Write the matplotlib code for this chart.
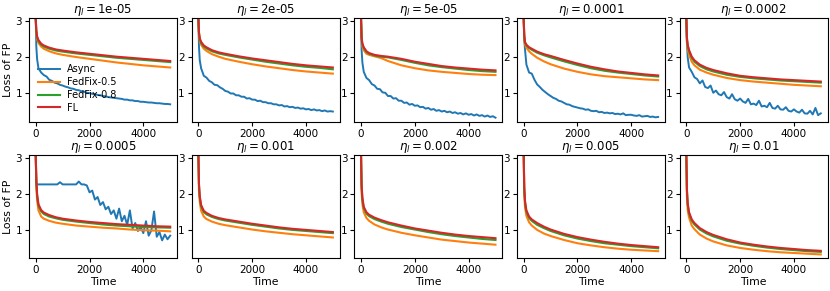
import matplotlib
matplotlib.use("Agg")
import matplotlib.pyplot as plt

lrs = ["1e-05", "2e-05", "5e-05", "0.0001", "0.0002",
       "0.0005", "0.001", "0.002", "0.005", "0.01"]
series_names = ["Async", "FedFix-0.5", "FedFix-0.8", "FL"]

t_smooth = [0, 20, 50, 100, 200, 300, 500, 750, 1000, 1500, 2000, 2500, 3000, 3500, 4000, 4500, 5000]
t_async = [0, 20, 50] + list(range(100, 5001, 100))

fl = [
    [3.05, 2.75, 2.58, 2.48, 2.38, 2.33, 2.27, 2.22, 2.19, 2.14, 2.10, 2.06, 2.02, 1.99, 1.96, 1.93, 1.90],
    [3.05, 2.70, 2.53, 2.43, 2.33, 2.28, 2.20, 2.14, 2.10, 2.03, 1.97, 1.92, 1.87, 1.82, 1.78, 1.75, 1.72],
    [3.05, 2.55, 2.38, 2.28, 2.17, 2.12, 2.07, 2.04, 2.02, 1.96, 1.88, 1.82, 1.76, 1.72, 1.69, 1.66, 1.64],
    [3.05, 2.60, 2.42, 2.35, 2.28, 2.24, 2.16, 2.09, 2.04, 1.93, 1.83, 1.74, 1.67, 1.61, 1.57, 1.53, 1.50],
    [3.05, 2.55, 2.35, 2.20, 2.02, 1.92, 1.80, 1.71, 1.65, 1.56, 1.49, 1.45, 1.42, 1.39, 1.37, 1.35, 1.33],
    [3.05, 2.40, 2.00, 1.72, 1.56, 1.49, 1.42, 1.36, 1.32, 1.27, 1.23, 1.20, 1.17, 1.15, 1.13, 1.11, 1.10],
    [3.05, 2.30, 1.95, 1.70, 1.54, 1.48, 1.40, 1.34, 1.30, 1.24, 1.18, 1.13, 1.08, 1.04, 1.01, 0.98, 0.95],
    [3.05, 2.25, 1.90, 1.65, 1.50, 1.43, 1.35, 1.28, 1.22, 1.13, 1.05, 0.99, 0.93, 0.88, 0.84, 0.81, 0.78],
    [3.05, 2.20, 1.80, 1.55, 1.38, 1.30, 1.20, 1.10, 1.02, 0.90, 0.81, 0.74, 0.68, 0.63, 0.59, 0.56, 0.53],
    [3.05, 2.15, 1.75, 1.50, 1.30, 1.20, 1.06, 0.95, 0.87, 0.75, 0.66, 0.60, 0.55, 0.51, 0.48, 0.45, 0.43],
]
fedfix08 = [
    [3.05, 2.72, 2.55, 2.45, 2.35, 2.30, 2.24, 2.19, 2.16, 2.11, 2.07, 2.03, 1.99, 1.96, 1.93, 1.90, 1.87],
    [3.05, 2.68, 2.50, 2.40, 2.30, 2.25, 2.17, 2.11, 2.07, 2.00, 1.94, 1.88, 1.83, 1.78, 1.74, 1.71, 1.67],
    [3.05, 2.53, 2.36, 2.26, 2.15, 2.10, 2.05, 2.02, 2.00, 1.93, 1.85, 1.78, 1.73, 1.69, 1.65, 1.62, 1.60],
    [3.05, 2.58, 2.40, 2.33, 2.26, 2.21, 2.13, 2.06, 2.00, 1.89, 1.79, 1.70, 1.63, 1.58, 1.54, 1.50, 1.47],
    [3.05, 2.52, 2.32, 2.17, 1.99, 1.88, 1.76, 1.67, 1.61, 1.52, 1.46, 1.42, 1.39, 1.36, 1.34, 1.32, 1.30],
    [3.05, 2.35, 1.95, 1.68, 1.52, 1.45, 1.38, 1.33, 1.29, 1.24, 1.20, 1.16, 1.13, 1.11, 1.09, 1.08, 1.07],
    [3.05, 2.25, 1.90, 1.66, 1.50, 1.44, 1.37, 1.31, 1.27, 1.21, 1.15, 1.10, 1.05, 1.01, 0.98, 0.95, 0.92],
    [3.05, 2.20, 1.85, 1.61, 1.46, 1.39, 1.31, 1.24, 1.18, 1.09, 1.02, 0.95, 0.89, 0.84, 0.80, 0.76, 0.73],
    [3.05, 2.15, 1.75, 1.51, 1.34, 1.26, 1.15, 1.06, 0.98, 0.86, 0.77, 0.70, 0.64, 0.60, 0.56, 0.53, 0.50],
    [3.05, 2.10, 1.70, 1.46, 1.26, 1.16, 1.02, 0.91, 0.83, 0.71, 0.63, 0.57, 0.52, 0.48, 0.45, 0.42, 0.40],
]
fedfix05 = [
    [3.05, 2.68, 2.50, 2.40, 2.30, 2.24, 2.17, 2.11, 2.07, 2.01, 1.96, 1.91, 1.86, 1.82, 1.78, 1.75, 1.72],
    [3.05, 2.62, 2.45, 2.35, 2.24, 2.18, 2.09, 2.02, 1.96, 1.88, 1.81, 1.75, 1.70, 1.65, 1.61, 1.58, 1.55],
    [3.05, 2.48, 2.30, 2.20, 2.10, 2.07, 2.03, 1.98, 1.90, 1.78, 1.70, 1.64, 1.60, 1.57, 1.54, 1.52, 1.51],
    [3.05, 2.52, 2.35, 2.27, 2.17, 2.10, 1.99, 1.89, 1.81, 1.69, 1.60, 1.53, 1.48, 1.45, 1.42, 1.39, 1.37],
    [3.05, 2.45, 2.22, 2.07, 1.88, 1.78, 1.66, 1.58, 1.52, 1.43, 1.37, 1.33, 1.30, 1.27, 1.24, 1.22, 1.20],
    [3.05, 2.25, 1.82, 1.55, 1.38, 1.32, 1.26, 1.21, 1.18, 1.13, 1.10, 1.07, 1.05, 1.02, 1.00, 0.99, 0.97],
    [3.05, 2.10, 1.78, 1.54, 1.38, 1.31, 1.24, 1.18, 1.14, 1.08, 1.02, 0.97, 0.93, 0.89, 0.86, 0.83, 0.80],
    [3.05, 2.05, 1.72, 1.50, 1.34, 1.26, 1.16, 1.08, 1.02, 0.93, 0.86, 0.80, 0.74, 0.70, 0.66, 0.63, 0.60],
    [3.05, 2.00, 1.62, 1.40, 1.22, 1.13, 1.01, 0.91, 0.84, 0.73, 0.64, 0.58, 0.53, 0.49, 0.46, 0.44, 0.42],
    [3.05, 1.95, 1.55, 1.35, 1.13, 1.03, 0.88, 0.77, 0.69, 0.58, 0.51, 0.46, 0.42, 0.39, 0.37, 0.35, 0.33],
]

async_1 = [3.05, 2.30, 1.95,
           1.70, 1.58, 1.51, 1.47, 1.38, 1.35, 1.30, 1.28, 1.24, 1.22,
           1.19, 1.17, 1.14, 1.13, 1.10, 1.09, 1.06, 1.05, 1.02, 1.01,
           0.99, 0.98, 0.96, 0.95, 0.93, 0.92, 0.90, 0.89, 0.88, 0.87,
           0.86, 0.85, 0.83, 0.83, 0.81, 0.81, 0.79, 0.79, 0.77, 0.77,
           0.76, 0.75, 0.75, 0.74, 0.73, 0.73, 0.72, 0.71, 0.71, 0.70]
async_2 = [3.05, 2.30, 1.92,
           1.70, 1.49, 1.44, 1.35, 1.31, 1.24, 1.23, 1.17, 1.13, 1.07,
           1.05, 1.00, 1.00, 0.95, 0.95, 0.91, 0.91, 0.86, 0.87, 0.83,
           0.83, 0.79, 0.80, 0.76, 0.76, 0.73, 0.73, 0.70, 0.70, 0.67,
           0.68, 0.64, 0.65, 0.62, 0.63, 0.60, 0.61, 0.58, 0.59, 0.56,
           0.57, 0.54, 0.56, 0.53, 0.54, 0.51, 0.53, 0.50, 0.51, 0.50]
async_3 = [3.05, 2.20, 1.85,
           1.60, 1.43, 1.37, 1.26, 1.22, 1.13, 1.12, 1.03, 1.02, 0.93,
           0.93, 0.86, 0.87, 0.80, 0.80, 0.74, 0.75, 0.69, 0.71, 0.66,
           0.67, 0.62, 0.63, 0.58, 0.60, 0.55, 0.57, 0.52, 0.54, 0.50,
           0.52, 0.48, 0.50, 0.46, 0.48, 0.44, 0.46, 0.42, 0.45, 0.41,
           0.43, 0.39, 0.42, 0.38, 0.40, 0.36, 0.39, 0.35, 0.37, 0.33]
async_4 = [3.05, 2.50, 2.20,
           1.80, 1.58, 1.55, 1.38, 1.25, 1.18, 1.10, 1.04, 0.98, 0.93,
           0.88, 0.85, 0.80, 0.78, 0.74, 0.70, 0.69, 0.65, 0.63, 0.61,
           0.59, 0.58, 0.55, 0.56, 0.52, 0.51, 0.52, 0.48, 0.49, 0.46,
           0.47, 0.45, 0.46, 0.43, 0.44, 0.42, 0.45, 0.40, 0.41, 0.41,
           0.39, 0.38, 0.40, 0.36, 0.37, 0.38, 0.35, 0.36, 0.34, 0.35]
async_5 = [3.05, 2.40, 2.00,
           1.72, 1.60, 1.45, 1.40, 1.28, 1.36, 1.18, 1.15, 1.22, 1.02,
           1.08, 0.98, 0.95, 1.04, 0.90, 0.86, 0.98, 0.84, 0.80, 0.86,
           0.78, 0.74, 0.85, 0.70, 0.72, 0.68, 0.80, 0.64, 0.66, 0.62,
           0.74, 0.60, 0.58, 0.66, 0.56, 0.55, 0.62, 0.52, 0.50, 0.56,
           0.50, 0.47, 0.55, 0.45, 0.44, 0.52, 0.42, 0.60, 0.40, 0.45]
async_6 = [3.05, 2.27, 2.27,
           2.27, 2.27, 2.27, 2.27, 2.27, 2.27, 2.27, 2.27, 2.33, 2.27,
           2.27, 2.27, 2.27, 2.27, 2.27, 2.35, 2.27, 2.27,
           2.24, 2.05, 2.10, 1.85, 1.92, 1.70, 1.78, 1.58, 1.65, 1.45,
           1.55, 1.32, 1.60, 1.25, 1.40, 1.15, 1.55, 1.05, 1.20, 0.98,
           1.10, 0.92, 1.25, 0.85, 1.00, 1.52, 0.82, 0.95, 0.72, 0.88,
           0.75, 0.85]
async_all = [async_1, async_2, async_3, async_4, async_5, async_6,
             None, None, None, None]

colors = ["#1f77b4", "#ff7f0e", "#2ca02c", "#d62728"]

fig, axes = plt.subplots(2, 5, figsize=(8.3, 2.91), dpi=100)
fig.subplots_adjust(left=0.035, right=0.997, top=0.938, bottom=0.112,
                    wspace=0.1, hspace=0.32)

for i, ax in enumerate(axes.flat):
    a = async_all[i]
    if a is not None:
        ax.plot(t_async, a, color=colors[0], lw=1.4, label=series_names[0])
    else:
        ax.plot([], [], color=colors[0], label=series_names[0])
    ax.plot(t_smooth, fedfix05[i], color=colors[1], lw=1.5, label=series_names[1])
    ax.plot(t_smooth, fedfix08[i], color=colors[2], lw=1.5, label=series_names[2])
    ax.plot(t_smooth, fl[i], color=colors[3], lw=1.5, label=series_names[3])
    ax.set_ylim(0.22, 3.09)
    ax.set_xlim(-250, 5250)
    ax.set_xticks([0, 2000, 4000])
    ax.set_yticks([1, 2, 3])
    ax.tick_params(labelsize=7.5, length=3, pad=2)
    ax.set_title(r"$\eta_l = $" + lrs[i], fontsize=8.5, pad=3)
    if i % 5 == 0:
        ax.set_ylabel("Loss of FP", fontsize=7.8, labelpad=2)
    if i >= 5:
        ax.set_xlabel("Time", fontsize=7.8, labelpad=1)

axes[0, 0].legend(loc="lower left", fontsize=7, frameon=False,
                  handlelength=2.27, handletextpad=0.7, labelspacing=0.3,
                  borderaxespad=0.5)

fig.savefig("out.png", dpi=100)
